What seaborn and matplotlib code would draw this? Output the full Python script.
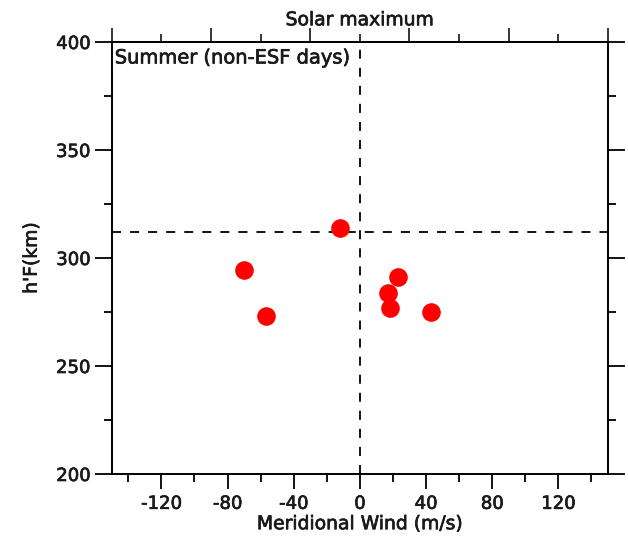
import matplotlib
matplotlib.use("Agg")
import matplotlib.pyplot as plt
import matplotlib.patheffects as pe
import seaborn as sns
import pandas as pd
from matplotlib.ticker import FixedLocator

sns.set_theme(style="white")
plt.rcParams['font.family'] = ['DejaVu Sans']
plt.rcParams['axes.unicode_minus'] = False

wind = [-70, -57, -12, 17, 18, 23, 43]
hf = [294.5, 273, 314, 284, 277, 291, 275]
x_ticks = [-120, -80, -40, 0, 40, 80, 120]
y_ticks = [200, 250, 300, 350, 400]
ref_wind = 0
ref_hf = 312

df = pd.DataFrame({"wind": wind, "hf": hf})

TXT = "#1a1a1a"
heavy = [pe.withStroke(linewidth=0.5, foreground=TXT)]

fig = plt.figure(figsize=(6.28, 5.36), dpi=100)
ax = fig.add_axes([0.178, 0.1157, 0.79, 0.806])

sns.scatterplot(data=df, x="wind", y="hf", ax=ax, color="#ff0000", s=180,
                edgecolor="#ff0000", linewidth=0, zorder=3, legend=False)

ax.axhline(ref_hf, color="black", linestyle=(0, (5, 5)), linewidth=1.3, zorder=2)
ax.axvline(ref_wind, color="black", linestyle=(0, (5, 5)), linewidth=1.3, zorder=2)

ax.set_xlim(-150, 150)
ax.set_ylim(200, 400)
ax.xaxis.set_major_locator(FixedLocator(x_ticks))
ax.xaxis.set_minor_locator(FixedLocator([-140, -100, -60, -20, 20, 60, 100, 140]))
ax.yaxis.set_major_locator(FixedLocator(y_ticks))
ax.yaxis.set_minor_locator(FixedLocator([225, 275, 325, 375]))

for s in ax.spines.values():
    s.set_color("black")
    s.set_linewidth(1.4)

ax.tick_params(axis="x", which="major", direction="out", length=11, width=1.3,
               color="black", labelsize=13, labelcolor=TXT, pad=4)
ax.tick_params(axis="y", which="major", direction="out", length=12.5, width=1.3,
               color="black", labelsize=13, labelcolor=TXT, pad=3)
ax.tick_params(axis="both", which="minor", direction="out", length=5.5, width=1.3,
               color="black")
ax.tick_params(axis="y", which="both", right=True, labelright=False, left=True)
ax.tick_params(axis="x", which="both", bottom=True)
for lab in ax.get_xticklabels() + ax.get_yticklabels():
    lab.set_path_effects(heavy)

# top axis with its own ticks
top = ax.secondary_xaxis("top")
top.xaxis.set_major_locator(FixedLocator([-150, -90, -30, 30, 90, 150]))
top.xaxis.set_minor_locator(FixedLocator([-120, -60, 0, 60, 120]))
top.tick_params(which="major", direction="out", length=10, width=1.3, labeltop=False)
top.tick_params(which="minor", direction="out", length=6, width=1.3)
top.spines["top"].set_linewidth(1.4)

ax.set_xlabel("Meridional Wind (m/s)", fontsize=13.5, color=TXT, labelpad=1,
              path_effects=heavy)
ax.set_ylabel("h'F(km)", fontsize=13.5, color=TXT, labelpad=11, path_effects=heavy)
ax.set_title("Solar maximum", fontsize=13.5, color=TXT, pad=12, path_effects=heavy)
ax.text(0.006, 0.985, "Summer (non-ESF days)", transform=ax.transAxes,
        ha="left", va="top", fontsize=14, color=TXT, path_effects=heavy)

fig.savefig("out.png", dpi=100)
